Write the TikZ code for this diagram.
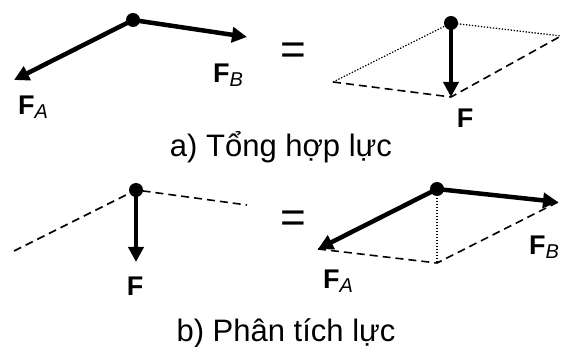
\documentclass[tikz,border=0pt]{standalone}
\usepackage{fontspec}
\setmainfont{Liberation Sans}
\usetikzlibrary{arrows.meta}
\newcommand{\vecF}[1]{\textbf{F}\raisebox{-4pt}{\fontsize{20}{20}\selectfont\mdseries\itshape #1}}
\begin{document}
\begin{tikzpicture}[x=1pt,y=-1pt,
  force/.style={line width=4.5pt,-{Triangle[length=15pt,width=15pt]}},
  comp/.style={line width=1.6pt,dash pattern=on 8pt off 5pt},
  aux/.style={line width=1.3pt,dash pattern=on 1.3pt off 1.7pt},
  pin/.style={circle,fill,inner sep=0pt,minimum size=14pt},
  lbl/.style={anchor=base,inner sep=0pt,font=\fontsize{27}{27}\selectfont\bfseries},
  caption/.style={anchor=base,inner sep=0pt,font=\fontsize{31}{31}\selectfont},
  eq/.style={inner sep=0pt,font=\fontsize{44}{44}\selectfont}]
\useasboundingbox (0,0) rectangle (562,347);
% a) tong hop luc
\coordinate (o1) at (133,20);
\coordinate (a1) at (14,80);
\coordinate (b1) at (247,37);
\draw[force] (o1) -- (a1);
\draw[force] (o1) -- (b1);
\node[pin] (p1) at (o1) {};
\node[lbl,anchor=base west] (fa1) at (18,115) {\vecF{A}};
\node[lbl,anchor=base west] (fb1) at (213,83) {\vecF{B}};
\node[eq] (eq1) at (293,54) {=};
\coordinate (o2) at (451,23);
\coordinate (l2) at (333,82);
\coordinate (r2) at (561,36);
\coordinate (f2) at (451,97);
\draw[aux] (l2) -- (o2) -- (r2);
\draw[comp] (l2) -- (f2) -- (r2);
\draw[force] (o2) -- (f2);
\node[pin] (p2) at (o2) {};
\node[lbl] (f2l) at (465,128) {F};
\node[caption] (capa) at (281,157) {a) Tổng hợp lực};
% b) phan tich luc
\coordinate (o3) at (136,190);
\coordinate (l3) at (14,251);
\coordinate (r3) at (247,205);
\coordinate (f3) at (136,262);
\draw[comp] (l3) -- (o3) -- (r3);
\draw[force] (o3) -- (f3);
\node[pin] (p3) at (o3) {};
\node[lbl] (f3l) at (135,295) {F};
\node[eq] (eq2) at (293,222) {=};
\coordinate (o4) at (437,189);
\coordinate (a4) at (318,249);
\coordinate (b4) at (558,202);
\coordinate (m4) at (437,263);
\draw[aux] (o4) -- (m4);
\draw[comp] (a4) -- (m4) -- (b4);
\draw[force] (o4) -- (a4);
\draw[force] (o4) -- (b4);
\node[pin] (p4) at (o4) {};
\node[lbl,anchor=base west] (fa4) at (323,288) {\vecF{A}};
\node[lbl,anchor=base west] (fb4) at (529,255) {\vecF{B}};
\node[caption] (capb) at (286,341) {b) Phân tích lực};
\end{tikzpicture}
\end{document}
